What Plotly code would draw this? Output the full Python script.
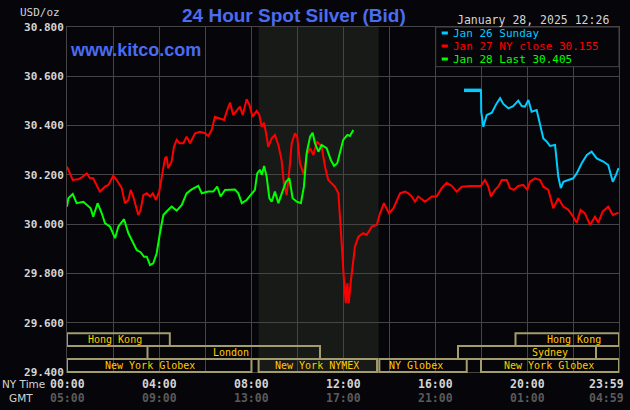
import plotly.graph_objects as go

# ---------------- data ----------------
red_hours = [0.00, 0.13, 0.25, 0.49, 0.64, 0.86, 1.00, 1.14, 1.29, 1.43, 1.65, 1.80, 2.01, 2.16, 2.38, 2.52,
             2.67, 2.77, 2.88, 2.96, 3.10, 3.20, 3.32, 3.47, 3.61, 3.73, 3.87, 4.01, 4.12, 4.19, 4.26, 4.33,
             4.40, 4.55, 4.65, 4.77, 4.91, 5.06, 5.20, 5.35, 5.57, 5.78, 6.00, 6.14, 6.29, 6.43, 6.65, 6.83,
             6.94, 7.09, 7.23, 7.38, 7.52, 7.64, 7.81, 7.93, 8.07, 8.25, 8.36, 8.47, 8.57, 8.68, 8.75, 8.90,
             9.04, 9.19, 9.33, 9.43, 9.55, 9.67, 9.77, 9.91, 10.01, 10.13, 10.30, 10.42, 10.57, 10.71, 10.87,
             11.07, 11.22, 11.36, 11.51, 11.65, 11.80, 11.87, 11.97, 12.04, 12.12, 12.19, 12.25, 12.33, 12.42,
             12.52, 12.67, 12.88, 13.03, 13.25, 13.47, 13.61, 13.78, 14.00, 14.19, 14.36, 14.48, 14.70, 14.84,
             14.99, 15.13, 15.27, 15.57, 15.86, 16.07, 16.29, 16.51, 16.73, 16.94, 17.16, 17.52, 17.99, 18.17,
             18.32, 18.43, 18.61, 18.75, 18.90, 19.12, 19.26, 19.43, 19.62, 19.84, 20.01, 20.13, 20.35, 20.57,
             20.71, 20.93, 21.14, 21.36, 21.58, 21.80, 22.01, 22.16, 22.33, 22.52, 22.74, 22.96, 23.10, 23.29,
             23.53, 23.73, 23.98]
red_values = [30.233, 30.206, 30.179, 30.182, 30.190, 30.206, 30.186, 30.186, 30.159, 30.132, 30.152, 30.159,
              30.196, 30.179, 30.146, 30.085, 30.098, 30.139, 30.112, 30.085, 30.037, 30.058, 30.118, 30.125,
              30.112, 30.125, 30.098, 30.132, 30.186, 30.227, 30.267, 30.274, 30.227, 30.254, 30.314, 30.342,
              30.328, 30.328, 30.355, 30.328, 30.369, 30.375, 30.369, 30.358, 30.382, 30.436, 30.430, 30.423,
              30.456, 30.493, 30.443, 30.463, 30.477, 30.443, 30.507, 30.484, 30.436, 30.460, 30.443, 30.395,
              30.412, 30.355, 30.314, 30.348, 30.362, 30.321, 30.260, 30.166, 30.118, 30.220, 30.328, 30.369,
              30.355, 30.247, 30.200, 30.281, 30.308, 30.281, 30.335, 30.314, 30.233, 30.179, 30.166, 30.152,
              30.125, 30.004, 29.882, 29.774, 29.679, 29.760, 29.679, 29.760, 29.841, 29.909, 29.949, 29.963,
              29.956, 29.990, 29.997, 30.044, 30.085, 30.044, 30.064, 30.098, 30.125, 30.132, 30.125, 30.112,
              30.091, 30.112, 30.091, 30.112, 30.112, 30.146, 30.168, 30.155, 30.132, 30.152, 30.155, 30.155,
              30.179, 30.152, 30.112, 30.139, 30.152, 30.179, 30.179, 30.146, 30.139, 30.155, 30.159, 30.139,
              30.172, 30.186, 30.179, 30.152, 30.139, 30.064, 30.105, 30.071, 30.058, 30.030, 30.006, 30.058,
              30.044, 29.997, 30.030, 30.006, 30.051, 30.071, 30.037, 30.047]

green_hours = [0.00, 0.06, 0.25, 0.42, 0.71, 0.88, 1.03, 1.14, 1.33, 1.51, 1.65, 1.87, 2.09, 2.23, 2.48, 2.67,
               2.88, 3.03, 3.20, 3.35, 3.47, 3.61, 3.75, 3.90, 4.04, 4.19, 4.33, 4.55, 4.77, 4.99, 5.20, 5.42,
               5.71, 5.86, 6.14, 6.36, 6.53, 6.68, 6.87, 7.09, 7.30, 7.45, 7.60, 7.81, 8.03, 8.17, 8.27, 8.39,
               8.47, 8.57, 8.68, 8.80, 8.90, 9.04, 9.19, 9.33, 9.52, 9.67, 9.81, 9.99, 10.17, 10.30, 10.42,
               10.57, 10.68, 10.78, 10.93, 11.07, 11.29, 11.47, 11.61, 11.75, 11.87, 12.01, 12.19, 12.30, 12.45]
green_values = [30.071, 30.105, 30.122, 30.085, 30.091, 30.078, 30.064, 30.030, 30.085, 30.044, 30.004, 29.990,
                29.943, 29.990, 30.020, 29.963, 29.922, 29.895, 29.886, 29.868, 29.868, 29.834, 29.841, 29.882,
                29.963, 30.037, 30.051, 30.071, 30.055, 30.078, 30.125, 30.141, 30.155, 30.125, 30.132, 30.132,
                30.152, 30.112, 30.139, 30.139, 30.141, 30.125, 30.085, 30.098, 30.125, 30.139, 30.206, 30.220,
                30.200, 30.236, 30.193, 30.105, 30.091, 30.132, 30.085, 30.125, 30.172, 30.186, 30.105, 30.091,
                30.085, 30.152, 30.288, 30.355, 30.371, 30.328, 30.294, 30.321, 30.308, 30.260, 30.236, 30.247,
                30.294, 30.342, 30.362, 30.358, 30.382]

cyan_hours = [17.26, 18.00, 18.01, 18.10, 18.25, 18.47, 18.68, 18.83, 18.97, 19.19, 19.40, 19.62, 19.77, 19.91,
              20.06, 20.20, 20.42, 20.57, 20.71, 20.86, 21.00, 21.22, 21.29, 21.36, 21.47, 21.58, 21.80, 22.01,
              22.16, 22.38, 22.60, 22.81, 23.03, 23.32, 23.53, 23.73, 23.87, 23.98]
cyan_values = [30.543, 30.543, 30.456, 30.395, 30.443, 30.452, 30.490, 30.511, 30.488, 30.470, 30.479, 30.501,
               30.479, 30.477, 30.504, 30.456, 30.463, 30.409, 30.348, 30.335, 30.317, 30.321, 30.260, 30.193,
               30.146, 30.172, 30.179, 30.186, 30.206, 30.247, 30.281, 30.294, 30.267, 30.254, 30.240, 30.172,
               30.200, 30.227]

legend_labels = ["Jan 26 Sunday", "Jan 27 NY close 30.155", "Jan 28 Last 30.405"]

ny_tick_hours = [0, 4, 8, 12, 16, 20, 24]
ny_tick_text = ["00:00", "04:00", "08:00", "12:00", "16:00", "20:00", "23:59"]
gmt_tick_text = ["05:00", "09:00", "13:00", "17:00", "21:00", "01:00", "04:59"]

y_ticks = [29.4, 29.6, 29.8, 30.0, 30.2, 30.4, 30.6, 30.8]

session_names = ["Hong Kong", "London", "New York Globex", "New York NYMEX", "NY Globex",
                 "Sydney", "Hong Kong", "New York Globex"]
session_start = [0.0, 3.5, 0.0, 8.33, 13.58, 17.0, 19.5, 18.0]
session_end = [4.47, 11.0, 8.02, 13.48, 17.38, 23.0, 24.0, 24.0]
session_row = [1, 2, 3, 3, 3, 2, 1, 3]
session_label_at = [2.10, 7.14, 3.62, 10.88, 15.19, 20.99, 22.05, 20.97]

nymex_hours = [8.33, 13.55]

title_text = "24 Hour Spot Silver (Bid)"
site_text = "www.kitco.com"
date_text = "January 28, 2025 12:26"

# ---------------- style ----------------
BG = "#060509"
GRID = "#454545"
SHADE = "#171a17"
BLUE = "#4a6cf0"
RED = "#ff0000"
GREEN = "#00ff00"
CYAN = "#00ccff"
LABEL = "#d4d4d4"
GMTC = "#5a5a5a"
BAR_LINE = "#a39c6c"
BAR_TEXT = "#ffcc00"
MONO = "DejaVu Sans Mono"

fig = go.Figure()
fig.add_trace(go.Scatter(x=cyan_hours, y=cyan_values, mode="lines", line=dict(color=CYAN, width=2)))
# the opening flat quote of the Sunday series is drawn thicker, as in the reference
fig.add_trace(go.Scatter(x=cyan_hours[:2], y=cyan_values[:2], mode="lines", line=dict(color=CYAN, width=3.5)))
fig.add_trace(go.Scatter(x=red_hours, y=red_values, mode="lines", line=dict(color=RED, width=2)))
fig.add_trace(go.Scatter(x=green_hours, y=green_values, mode="lines", line=dict(color=GREEN, width=2)))

shapes = []
# NYMEX shaded hours
shapes.append(dict(type="rect", xref="x", yref="paper", x0=nymex_hours[0], x1=nymex_hours[1], y0=0, y1=1,
                   fillcolor=SHADE, line=dict(width=0), layer="below"))

# market session bars
row_edges = {1: (0.0754, 0.112), 2: (0.0377, 0.0754), 3: (0.0, 0.0377)}
annotations = []
for name, s, e, r, lab in zip(session_names, session_start, session_end, session_row, session_label_at):
    y0, y1 = row_edges[r]
    shapes.append(dict(type="rect", xref="x", yref="paper", x0=s, x1=e, y0=y0, y1=y1,
                       line=dict(color=BAR_LINE, width=2), fillcolor="rgba(0,0,0,0)", layer="above"))
    annotations.append(dict(x=lab, y=(y0 + y1) / 2, xref="x", yref="paper", text=name, showarrow=False,
                            font=dict(family=MONO, size=10, color=BAR_TEXT), xanchor="center", yanchor="middle",
                            height=11))

# legend box
shapes.append(dict(type="rect", xref="paper", yref="paper", x0=0.668, x1=1.0, y0=0.885, y1=1.0,
                   fillcolor=BG, line=dict(color=GRID, width=1), layer="above"))
leg_colors = [CYAN, RED, GREEN]
leg_y = [0.9826, 0.9449, 0.9072]
for lab, col, ly in zip(legend_labels, leg_colors, leg_y):
    shapes.append(dict(type="line", xref="paper", yref="paper", x0=0.6788, x1=0.690, y0=ly, y1=ly,
                       line=dict(color=col, width=3), layer="above"))
    annotations.append(dict(x=0.697, y=ly, xref="paper", yref="paper", text=lab, showarrow=False,
                            font=dict(family=MONO, size=11, color=col), xanchor="left", yanchor="middle",
                            height=11, borderpad=0))

# x tick labels (two rows)
for h, t1, t2 in zip(ny_tick_hours, ny_tick_text, gmt_tick_text):
    anchor = "right" if h == 24 else "center"
    shift = 6 if h == 24 else 0
    annotations.append(dict(x=h, y=0, xref="x", yref="paper", text=t1, showarrow=False, xanchor=anchor,
                            yanchor="middle", yshift=-12, xshift=shift, height=12, borderpad=0,
                            font=dict(family=MONO, size=11.5, color=LABEL, weight="bold")))
    annotations.append(dict(x=h, y=0, xref="x", yref="paper", text=t2, showarrow=False, xanchor=anchor,
                            yanchor="middle", yshift=-26, xshift=shift, height=12, borderpad=0,
                            font=dict(family=MONO, size=11.5, color=GMTC, weight="bold")))

annotations.append(dict(x=-0.0779, y=0, xref="paper", yref="paper", text="NY Time", showarrow=False,
                        xanchor="center", yanchor="middle", yshift=-12, height=12, borderpad=0,
                        font=dict(family="DejaVu Sans", size=10.5, color=LABEL)))
annotations.append(dict(x=-0.0842, y=0, xref="paper", yref="paper", text="GMT", showarrow=False,
                        xanchor="center", yanchor="middle", yshift=-26, height=12, borderpad=0,
                        font=dict(family="DejaVu Sans", size=10.5, color=LABEL)))

annotations.append(dict(x=0.411, y=1.032, xref="paper", yref="paper", text=title_text, showarrow=False,
                        xanchor="center", yanchor="middle",
                        font=dict(family="Liberation Sans", size=19, color=BLUE, weight="bold")))
annotations.append(dict(x=0.002, y=0.933, xref="paper", yref="paper", text=site_text, showarrow=False,
                        xanchor="left", yanchor="middle",
                        font=dict(family="Liberation Sans", size=18, color=BLUE, weight="bold")))
annotations.append(dict(x=0.703, y=1.020, xref="paper", yref="paper", text=date_text, showarrow=False,
                        xanchor="left", yanchor="middle",
                        font=dict(family=MONO, size=11.5, color=LABEL)))
annotations.append(dict(x=-0.009, y=1.041, xref="paper", yref="paper", text="USD/oz", showarrow=False,
                        xanchor="right", yanchor="middle",
                        font=dict(family=MONO, size=11, color=LABEL)))

fig.update_layout(
    width=630, height=410,
    margin=dict(l=67, r=11, t=27, b=38, pad=0),
    paper_bgcolor=BG, plot_bgcolor=BG,
    showlegend=False,
    shapes=shapes, annotations=annotations,
    xaxis=dict(range=[0, 24], tickvals=list(range(0, 25, 2)), showticklabels=False, showgrid=True,
               gridcolor=GRID, gridwidth=1, zeroline=False, showline=True, linecolor=GRID, mirror=True,
               ticks=""),
    yaxis=dict(range=[29.4, 30.8], tickvals=y_ticks, tickformat=".3f", showgrid=True, gridcolor=GRID,
               gridwidth=1, zeroline=False, showline=True, linecolor=GRID, mirror=True, ticks="",
               tickfont=dict(family=MONO, size=11, color=LABEL, weight="bold")),
)

fig.write_html("out.html")
